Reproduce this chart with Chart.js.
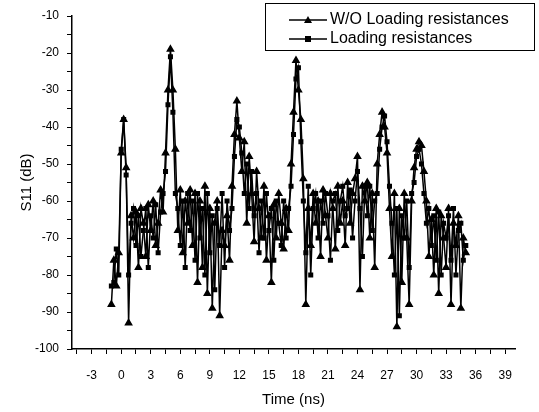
<!DOCTYPE html>
<html>
<head>
<meta charset="utf-8">
<script src="https://cdn.jsdelivr.net/npm/chart.js@4.4.0/dist/chart.umd.min.js"></script>
<style>
  html, body { margin: 0; padding: 0; background: #fff; }
  canvas { display: block; }
</style>
</head>
<body>
<canvas id="s11Chart" width="539" height="412"></canvas>
<script>
// time samples (ns)
var times = [
  -1, -0.75, -0.5, -0.25, 0, 0.25, 0.5, 0.75, 1, 1.25, 1.5, 1.75,
  2, 2.25, 2.5, 2.75, 3, 3.25, 3.5, 3.75, 4, 4.25, 4.5, 4.75,
  5, 5.25, 5.5, 5.75, 6, 6.25, 6.5, 6.75, 7, 7.25, 7.5, 7.75,
  8, 8.25, 8.5, 8.75, 9, 9.25, 9.5, 9.75, 10, 10.25, 10.5, 10.75,
  11, 11.25, 11.5, 11.75, 12, 12.25, 12.5, 12.75, 13, 13.25, 13.5, 13.75,
  14, 14.25, 14.5, 14.75, 15, 15.25, 15.5, 15.75, 16, 16.25, 16.5, 16.75,
  17, 17.25, 17.5, 17.75, 18, 18.25, 18.5, 18.75, 19, 19.25, 19.5, 19.75,
  20, 20.25, 20.5, 20.75, 21, 21.25, 21.5, 21.75, 22, 22.25, 22.5, 22.75,
  23, 23.25, 23.5, 23.75, 24, 24.25, 24.5, 24.75, 25, 25.25, 25.5, 25.75,
  26, 26.25, 26.5, 26.75, 27, 27.25, 27.5, 27.75, 28, 28.25, 28.5, 28.75,
  29, 29.25, 29.5, 29.75, 30, 30.25, 30.5, 30.75, 31, 31.25, 31.5, 31.75,
  32, 32.25, 32.5, 32.75, 33, 33.25, 33.5, 33.75, 34, 34.25, 34.5, 34.75,
  35
];

// S11 (dB) without loading resistances
var woLoading = [
  -88, -76, -83, -74, -47, -38, -51, -93, -64, -70, -63, -78,
  -62, -66, -75, -61, -68, -60, -72, -66, -57, -63, -47, -30,
  -19, -30, -46, -68, -57, -74, -60, -66, -57, -72, -58, -82,
  -60, -78, -56, -85, -62, -89, -66, -60, -91, -68, -72, -64,
  -76, -56, -42, -33, -43, -52, -44, -66, -48, -58, -71, -52,
  -62, -70, -56, -76, -64, -82, -61, -70, -58, -66, -73, -62,
  -68, -50, -36, -22, -30, -38, -54, -88, -62, -72, -58, -66,
  -60, -75, -57, -64, -70, -58, -62, -73, -56, -66, -60, -72,
  -55, -66, -58, -54, -48, -84, -56, -60, -55, -70, -58, -78,
  -50, -42, -36, -40, -47, -62, -75, -58, -94, -62, -82, -58,
  -70, -88, -60, -51, -46, -44, -45, -52, -60, -75, -65, -80,
  -62, -85, -64, -70, -78, -62, -88, -66, -72, -64, -89, -70,
  -74
];

// S11 (dB) with loading resistances
var withLoading = [
  -83, -82, -73, -80, -46, -38, -53, -80, -66, -62, -72, -64,
  -75, -68, -62, -78, -64, -70, -61, -74, -63, -58, -52, -34,
  -21, -36, -58, -62, -72, -60, -78, -58, -68, -60, -76, -58,
  -70, -62, -80, -58, -74, -64, -84, -62, -72, -58, -78, -60,
  -68, -62, -48, -38, -40, -47, -58, -50, -62, -52, -64, -58,
  -74, -60, -70, -58, -68, -62, -76, -60, -66, -72, -60, -70,
  -62, -56, -42, -27, -24, -44, -60, -74, -56, -80, -62, -58,
  -70, -60, -66, -58, -64, -76, -60, -58, -68, -60, -56, -64,
  -62, -57, -70, -60, -52, -62, -75, -56, -64, -56, -68, -60,
  -58, -46, -40, -37, -44, -56, -66, -80, -62, -91, -64, -70,
  -60, -78, -58, -55, -48, -46, -50, -58, -66, -62, -72, -64,
  -76, -63, -80, -66, -70, -64, -76, -62, -80, -68, -66, -76,
  -72
];

var seriesLabels = ['W/O Loading resistances', 'Loading resistances'];

function toPoints(vals) {
  return times.map(function (t, i) { return { x: t, y: vals[i] }; });
}

// major + minor tick positions
function tickRange(from, to, step) {
  var out = [];
  for (var v = from; v <= to + 1e-9; v += step) out.push({ value: Math.round(v * 100) / 100 });
  return out;
}

var fontName = 'Arial, "Liberation Sans", sans-serif';

// legend box drawn like the original (line + marker + text)
var boxLegend = {
  id: 'boxLegend',
  afterDraw: function (chart) {
    var c = chart.ctx;
    c.save();
    c.strokeStyle = '#000';
    c.lineWidth = 1;
    c.strokeRect(265.5, 3.5, 269, 47);
    var rows = [20, 39];
    chart.data.datasets.forEach(function (ds, i) {
      var y = rows[i];
      c.beginPath();
      c.moveTo(289, y);
      c.lineTo(327, y);
      c.lineWidth = 1.5;
      c.stroke();
      c.fillStyle = '#000';
      c.beginPath();
      if (i === 0) {
        c.moveTo(308, y - 4);
        c.lineTo(312, y + 3);
        c.lineTo(304, y + 3);
        c.closePath();
      } else {
        c.rect(305, y - 3, 6, 6);
      }
      c.fill();
      c.font = '16px ' + fontName;
      c.textBaseline = 'middle';
      c.fillText(ds.label, 330, y);
    });
    c.restore();
  }
};

var ctx = document.getElementById('s11Chart').getContext('2d');
var s11Chart = new Chart(ctx, {
  type: 'line',
  data: {
    datasets: [{
      label: seriesLabels[0],
      data: toPoints(woLoading),
      borderColor: '#000',
      backgroundColor: '#000',
      borderWidth: 1.5,
      pointStyle: 'triangle',
      pointRadius: 3.5,
      tension: 0
    }, {
      label: seriesLabels[1],
      data: toPoints(withLoading),
      borderColor: '#000',
      backgroundColor: '#000',
      borderWidth: 1.5,
      pointStyle: 'rect',
      pointRadius: 2.5,
      tension: 0
    }]
  },
  options: {
    responsive: false,
    animation: false,
    layout: { padding: { top: 16, right: 24, left: 0, bottom: 0 } },
    plugins: {
      legend: { display: false },
      tooltip: { enabled: false }
    },
    scales: {
      x: {
        type: 'linear',
        min: -5,
        max: 40,
        afterBuildTicks: function (axis) { axis.ticks = tickRange(-4.5, 39, 1.5); },
        afterFit: function (axis) { axis.height = 63; },
        ticks: {
          autoSkip: false,
          maxRotation: 0,
          padding: 14,
          color: '#000',
          font: { family: fontName, size: 12 },
          callback: function (v) { return v % 3 === 0 ? v : ''; }
        },
        grid: { drawOnChartArea: false, tickLength: 5, color: '#000', lineWidth: 1 },
        border: { display: true, color: '#000', width: 1.5 },
        title: {
          display: true,
          text: 'Time (ns)',
          color: '#000',
          font: { family: fontName, size: 15 },
          padding: { top: 0, bottom: 3 }
        }
      },
      y: {
        min: -100,
        max: -10,
        afterBuildTicks: function (axis) { axis.ticks = tickRange(-100, -10, 5); },
        afterFit: function (axis) { axis.width = 72; },
        ticks: {
          autoSkip: false,
          padding: 8,
          color: '#000',
          font: { family: fontName, size: 12 },
          callback: function (v) { return v % 10 === 0 ? v : ''; }
        },
        grid: { drawOnChartArea: false, tickLength: 5, color: '#000', lineWidth: 1 },
        border: { display: true, color: '#000', width: 1.5 },
        title: {
          display: true,
          text: 'S11 (dB)',
          color: '#000',
          font: { family: fontName, size: 15 },
          padding: { top: 18, bottom: 0 }
        }
      }
    }
  },
  plugins: [boxLegend]
});
</script>
</body>
</html>
